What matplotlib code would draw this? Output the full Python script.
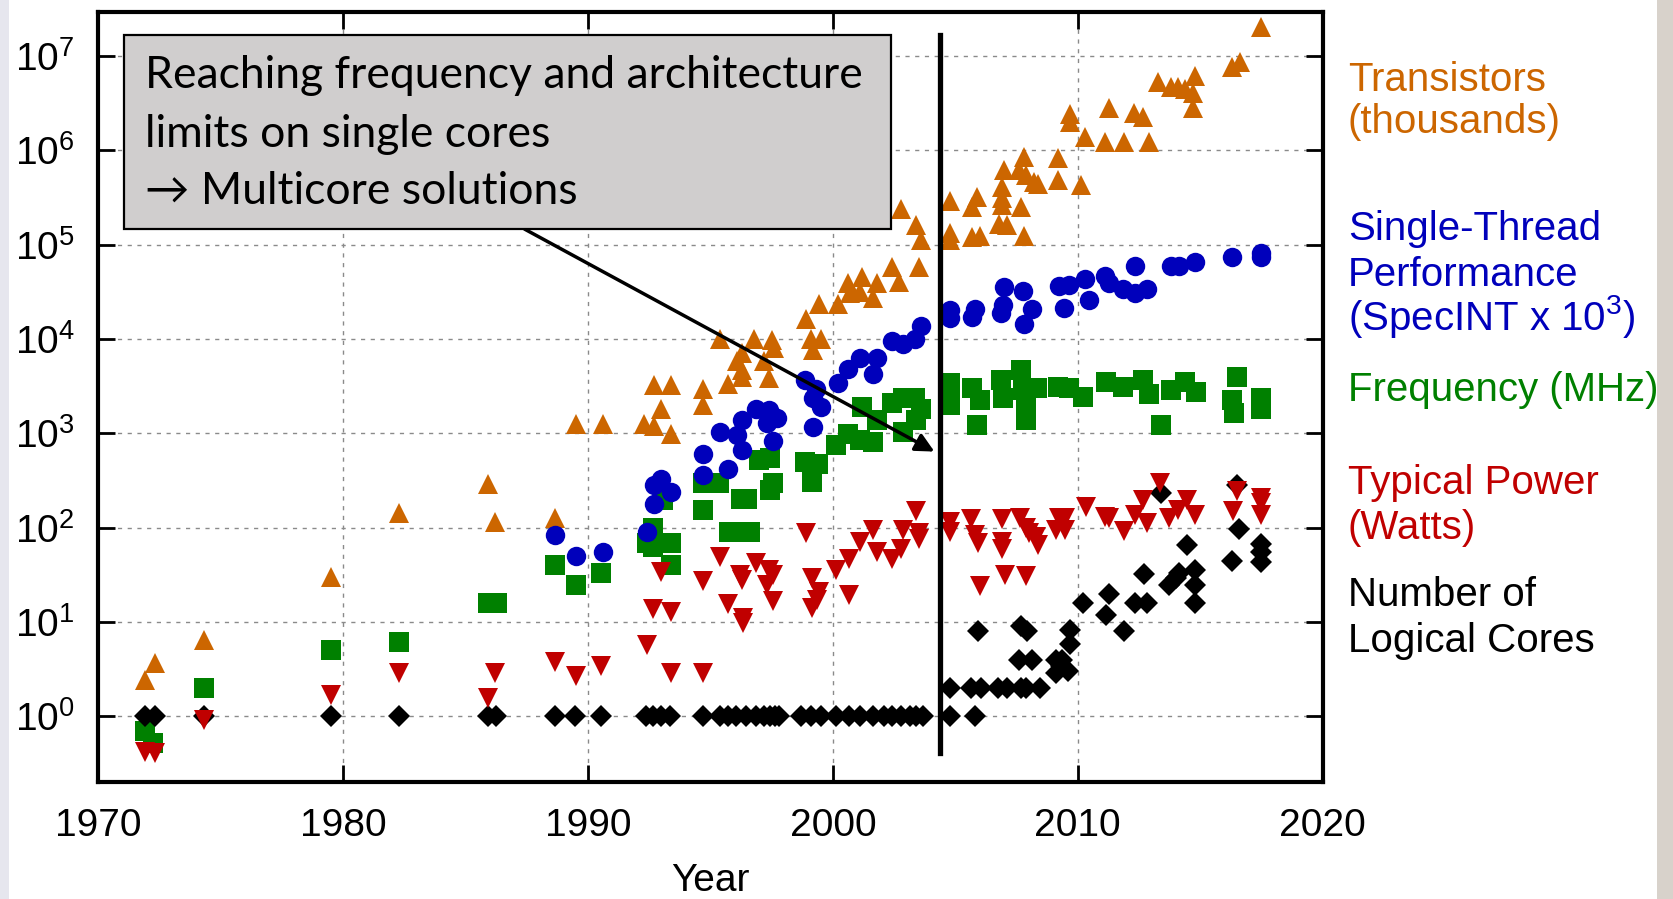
import matplotlib.pyplot as plt
from matplotlib.patches import Rectangle

plt.rcParams['font.family'] = ['Liberation Sans', 'DejaVu Sans']
plt.rcParams['mathtext.fontset'] = 'custom'
plt.rcParams['mathtext.rm'] = 'Liberation Sans'
plt.rcParams['mathtext.it'] = 'Liberation Sans:italic'
plt.rcParams['mathtext.bf'] = 'Liberation Sans:bold'

ORANGE = '#cc6600'
BLUE = '#0000bb'
GREEN = '#008000'
RED = '#c00000'

# Transistors (thousands)
tr_year = [1971.9, 1972.3, 1974.3, 1979.5, 1982.3, 1985.9, 1986.2, 1988.65, 1989.5, 1990.6,
           1992.3, 1992.7, 1993.4, 1993.0, 1994.7, 1994.7, 1992.7, 1993.4, 1995.4, 1996.8,
           1997.5, 1997.6, 1996.3, 1996.1, 1997.2, 1996.3, 1996.3, 1997.4, 1995.7, 1998.9,
           1999.1, 1999.5, 1999.2, 1999.45, 2000.2, 2000.6, 2001.2, 2001.8, 2000.7, 2001.1,
           2001.65, 2002.4, 2003.5, 2002.7, 2002.8, 2003.4, 2003.6, 2004.8, 2004.8, 2004.8,
           2005.9, 2005.7, 2005.7, 2006.0, 2006.9, 2006.9, 2006.9, 2006.8, 2007.1, 2007.0,
           2007.6, 2007.8, 2007.9, 2008.2, 2008.4, 2007.7, 2007.8, 2009.2, 2009.2, 2010.15,
           2009.7, 2009.7, 2010.3, 2011.1, 2011.9, 2012.9, 2011.3, 2012.3, 2012.65, 2013.3,
           2013.8, 2014.1, 2014.4, 2014.8, 2014.7, 2014.7, 2016.3, 2016.65, 2017.5]
tr_val = [2.4, 3.7, 6.4, 30, 144, 290, 114, 128, 1270, 1270,
          1270, 1190, 980, 1830, 2000, 2950, 3240, 3240, 10100, 10100,
          9700, 7950, 7180, 5890, 5890, 4680, 3920, 3820, 3330, 16100,
          10100, 10100, 7620, 23300, 23400, 39400, 45700, 39400, 30800, 31600,
          26900, 58200, 58200, 40400, 236000, 161000, 113000, 291000, 132000, 113000,
          317000, 248000, 121000, 123000, 403000, 308000, 262000, 165000, 161000, 617000,
          617000, 851000, 545000, 463000, 437000, 248000, 123000, 818000, 482000, 427000,
          2.42e6, 2.0e6, 1.39e6, 1.23e6, 1.23e6, 1.23e6, 2.77e6, 2.46e6, 2.26e6, 5.3e6,
          4.64e6, 4.64e6, 4.5e6, 6.1e6, 4.07e6, 2.77e6, 7.66e6, 8.65e6, 2.04e7]

# Single-thread performance (SpecINT x 10^3)
st_year = [1988.65, 1989.5, 1990.6, 1992.4, 1992.7, 1992.7, 1993.0, 1993.4, 1994.7, 1994.7,
           1995.7, 1995.4, 1996.3, 1996.1, 1996.3, 1996.85, 1997.4, 1997.7, 1997.3, 1997.55,
           1999.2, 1998.85, 1999.2, 1999.5, 1999.3, 2000.2, 2000.6, 2001.1, 2001.65, 2001.8,
           2002.4, 2002.85, 2003.35, 2003.6, 2004.8, 2004.8, 2005.8, 2005.7, 2007.0, 2006.95,
           2006.85, 2007.75, 2008.15, 2007.8, 2009.25, 2009.65, 2010.3, 2009.45, 2010.45, 2011.1,
           2011.3, 2011.85, 2012.35, 2012.85, 2012.35, 2013.8, 2014.15, 2014.8, 2016.3, 2017.5,
           2017.5]
st_val = [83, 50, 55, 91, 180, 283, 324, 240, 361, 603,
          414, 1035, 664, 957, 1390, 1810, 1775, 1470, 1290, 830,
          1175, 3665, 2343, 1880, 2920, 3380, 4750, 6300, 4240, 6210,
          9560, 8750, 10100, 13700, 20200, 16500, 21000, 17200, 35700, 22800,
          18700, 32400, 20600, 14400, 36400, 37300, 42800, 21100, 25800, 46500,
          39500, 33600, 31000, 33600, 59300, 59300, 59300, 65800, 74300, 81800,
          74000]

# Frequency (MHz)
fq_year = [1971.9, 1972.25, 1974.3, 1979.5, 1982.3, 1985.9, 1986.3, 1988.65, 1989.5, 1990.55,
           1992.65, 1992.4, 1992.65, 1993.4, 1993.4, 1993.05, 1994.7, 1994.7, 1995.35, 1996.25,
           1996.5, 1995.75, 1996.2, 1996.6, 1997.0, 1997.45, 1997.55, 1997.45, 1998.85, 1999.4,
           1999.15, 2000.15, 2000.6, 2001.1, 2001.2, 2001.65, 2001.8, 2002.4, 2002.85, 2002.85,
           2003.4, 2003.35, 2003.6, 2004.8, 2004.8, 2004.8, 2005.7, 2006.0, 2005.9, 2006.85,
           2006.95, 2007.7, 2007.75, 2007.9, 2007.9, 2008.35, 2009.2, 2009.65, 2010.2, 2011.15,
           2011.85, 2012.65, 2012.9, 2013.8, 2014.4, 2014.85, 2013.4, 2016.5, 2016.3, 2016.4,
           2017.5, 2017.5]
fq_val = [0.70, 0.52, 2.0, 5.0, 6.1, 16, 16, 40, 24.5, 33,
          100, 68, 63, 68, 40, 196, 153, 294, 299, 199,
          199, 90, 90, 90, 521, 542, 294, 250, 499, 478,
          306, 750, 980, 850, 1900, 800, 1400, 2100, 1040, 2340,
          1380, 2340, 1790, 3380, 2000, 2600, 2990, 2250, 1220, 3660,
          2340, 4680, 2870, 2000, 1380, 2990, 3110, 2990, 2440, 3510,
          3110, 3660, 2640, 2870, 3510, 2760, 1220, 3980, 2250, 1630,
          2340, 1820]

# Typical power (Watts)
pw_year = [1971.9, 1972.3, 1974.3, 1979.5, 1982.3, 1985.9, 1986.2, 1988.65, 1989.5, 1990.55,
           1992.4, 1993.4, 1994.7, 1992.65, 1993.4, 1993.0, 1994.7, 1995.4, 1995.7, 1996.2,
           1996.3, 1996.35, 1996.35, 1996.85, 1997.4, 1997.55, 1997.3, 1997.55, 1998.9, 1999.15,
           1999.45, 1999.35, 1999.15, 2000.15, 2000.65, 2000.65, 2001.1, 2001.65, 2001.8, 2002.4,
           2002.8, 2002.85, 2003.4, 2003.5, 2003.5, 2004.8, 2004.8, 2005.65, 2005.8, 2005.95,
           2006.0, 2006.9, 2006.9, 2006.9, 2007.05, 2007.65, 2007.9, 2007.9, 2008.0, 2008.3,
           2008.4, 2009.1, 2009.25, 2009.5, 2009.5, 2010.35, 2011.1, 2011.3, 2011.9, 2012.35,
           2012.65, 2012.85, 2013.35, 2013.75, 2014.1, 2014.45, 2014.8, 2016.35, 2016.5, 2017.5,
           2017.5, 2017.5]
pw_val = [0.42, 0.41, 0.91, 1.68, 2.9, 1.55, 2.9, 3.8, 2.7, 3.4,
          5.7, 2.9, 2.9, 13.9, 12.9, 34, 27, 49, 15.5, 31.5,
          27.9, 10.9, 9.7, 42.5, 35.5, 31.5, 24.6, 16.7, 87, 29,
          21, 17, 14, 35.5, 47, 19.3, 71, 94, 55, 47,
          60, 94, 151, 87, 75, 115, 90, 125, 83, 68,
          24, 125, 71, 60, 31.8, 128, 98, 31, 87, 80,
          66, 94, 128, 128, 94, 166, 131, 126, 93, 137,
          197, 113, 295, 128, 153, 197, 137, 150, 244, 207,
          183, 137]

# Number of logical cores
lc_year = [1971.9, 1972.3, 1974.3, 1979.5, 1982.3, 1985.9, 1986.25, 1988.65, 1989.45, 1990.55,
           1992.35, 1992.65, 1993.0, 1993.35, 1994.7, 1995.4, 1995.7, 1996.05, 1996.45, 1996.85,
           1997.2, 1997.45, 1997.65, 1997.8, 1998.7, 1999.1, 1999.5, 2000.15, 2000.65, 2001.1,
           2001.65, 2002.1, 2002.4, 2002.8, 2003.15, 2003.4, 2003.7, 2004.8, 2005.8,
           2004.8, 2005.65, 2006.05, 2006.75, 2007.1, 2007.7, 2007.9, 2008.45,
           2007.6, 2008.15, 2009.1, 2009.35, 2009.1, 2009.6, 2009.3, 2009.7, 2009.7, 2005.95,
           2007.7, 2007.95, 2010.2, 2011.3, 2011.15, 2011.9, 2012.35, 2012.85, 2012.7, 2013.4,
           2014.45, 2014.8, 2014.8, 2014.8, 2013.75, 2014.0, 2014.15, 2016.3, 2016.6, 2016.5,
           2017.5, 2017.5, 2017.5]
lc_val = [1, 1, 1, 1, 1, 1, 1, 1, 1, 1,
          1, 1, 1, 1, 1, 1, 1, 1, 1, 1,
          1, 1, 1, 1, 1, 1, 1, 1, 1, 1,
          1, 1, 1, 1, 1, 1, 1, 1, 1,
          2, 2, 2, 2, 2, 2, 2, 2,
          4, 4, 4, 4, 2.9, 3.0, 3.4, 5.9, 8.2, 8.1,
          9.0, 8.1, 15.9, 20, 11.8, 8.1, 16, 16, 32, 234,
          65, 36, 24.6, 16, 24.6, 29, 32.7, 44.5, 96, 283,
          67, 55, 43]

# right-hand series labels, one entry per text line
label_lines = ['Transistors', '(thousands)',
               'Single-Thread', 'Performance', '(SpecINT x $\\mathregular{10^{3}}$)',
               'Frequency (MHz)',
               'Typical Power', '(Watts)',
               'Number of', 'Logical Cores']
label_colors = [ORANGE, ORANGE, BLUE, BLUE, BLUE, GREEN, RED, RED, 'black', 'black']
label_baselines = [90.6, 133, 240, 285.5, 330, 401, 494, 539, 606, 652]  # px from top

box_lines = ['Reaching frequency and architecture',
             'limits on single cores',
             '\u2192 Multicore solutions']
box_baselines = [88, 147, 204]

multicore_year = 2004.36
arrow_from = (1987.41, 1.46e5)
arrow_to = (2004.15, 640)

W, H = 1673, 899
fig = plt.figure(figsize=(W / 100, H / 100), dpi=100)
ax = fig.add_axes([98.3 / W, 1 - 781.7 / H, 1224.2 / W, 770 / H])

ax.plot(tr_year, tr_val, '^', color=ORANGE, ms=14.5, mew=0, zorder=3)
ax.plot(fq_year, fq_val, 's', color=GREEN, ms=14.5, mew=0, zorder=3)
ax.plot(st_year, st_val, 'o', color=BLUE, ms=14, mew=0, zorder=4)
ax.plot(lc_year, lc_val, 'D', color='black', ms=11, mew=0, zorder=4)
ax.plot(pw_year, pw_val, 'v', color=RED, ms=14.5, mew=0, zorder=5)

ax.set_yscale('log')
ax.set_xlim(1970, 2020)
ax.set_ylim(0.203, 2.94e7)
ax.set_xticks([1970, 1980, 1990, 2000, 2010, 2020])
ax.set_yticks([1, 10, 100, 1e3, 1e4, 1e5, 1e6, 1e7])
ax.minorticks_off()
ax.grid(True, color='#8a8a8a', linestyle=(0, (3, 4)), linewidth=1.0)
ax.set_axisbelow(True)
ax.tick_params(direction='in', length=12, width=2, top=True, right=True,
               labelsize=28, colors='black')
ax.tick_params(axis='x', pad=19)
ax.tick_params(axis='y', pad=17)
for sp in ax.spines.values():
    sp.set_linewidth(3)

ax.axvline(multicore_year, ymin=0.0373, ymax=0.9697, color='black', lw=3.8, zorder=6)

ax.annotate('', xy=arrow_to, xytext=arrow_from,
            arrowprops=dict(arrowstyle='-|>', color='black', lw=2.5,
                            mutation_scale=28, shrinkA=0, shrinkB=0), zorder=7)

fig.text(710 / W, 8 / H, 'Year', ha='center', va='baseline', fontsize=28)

# annotation box
fig.add_artist(Rectangle((124 / W, 1 - 229 / H), 767 / W, 194 / H,
                         transform=fig.transFigure, facecolor='#d0cece',
                         edgecolor='black', lw=1.6, zorder=8))
for line, yb in zip(box_lines, box_baselines):
    fig.text(145 / W, 1 - yb / H, line, fontsize=32, va='baseline',
             family=['Lato', 'DejaVu Sans'], zorder=9)

# series labels on the right
for txt, col, yb in zip(label_lines, label_colors, label_baselines):
    fig.text(1348 / W, 1 - yb / H, txt, color=col, fontsize=29, va='baseline')

# faded borders of the original slide
fig.add_artist(Rectangle((0, 0), 9 / W, 1, transform=fig.transFigure,
                         facecolor='#e6e6ee', edgecolor='none'))
fig.add_artist(Rectangle((1657 / W, 0), 16 / W, 1, transform=fig.transFigure,
                         facecolor='#d8d2cb', edgecolor='none'))

fig.savefig('out.png', dpi=100)
